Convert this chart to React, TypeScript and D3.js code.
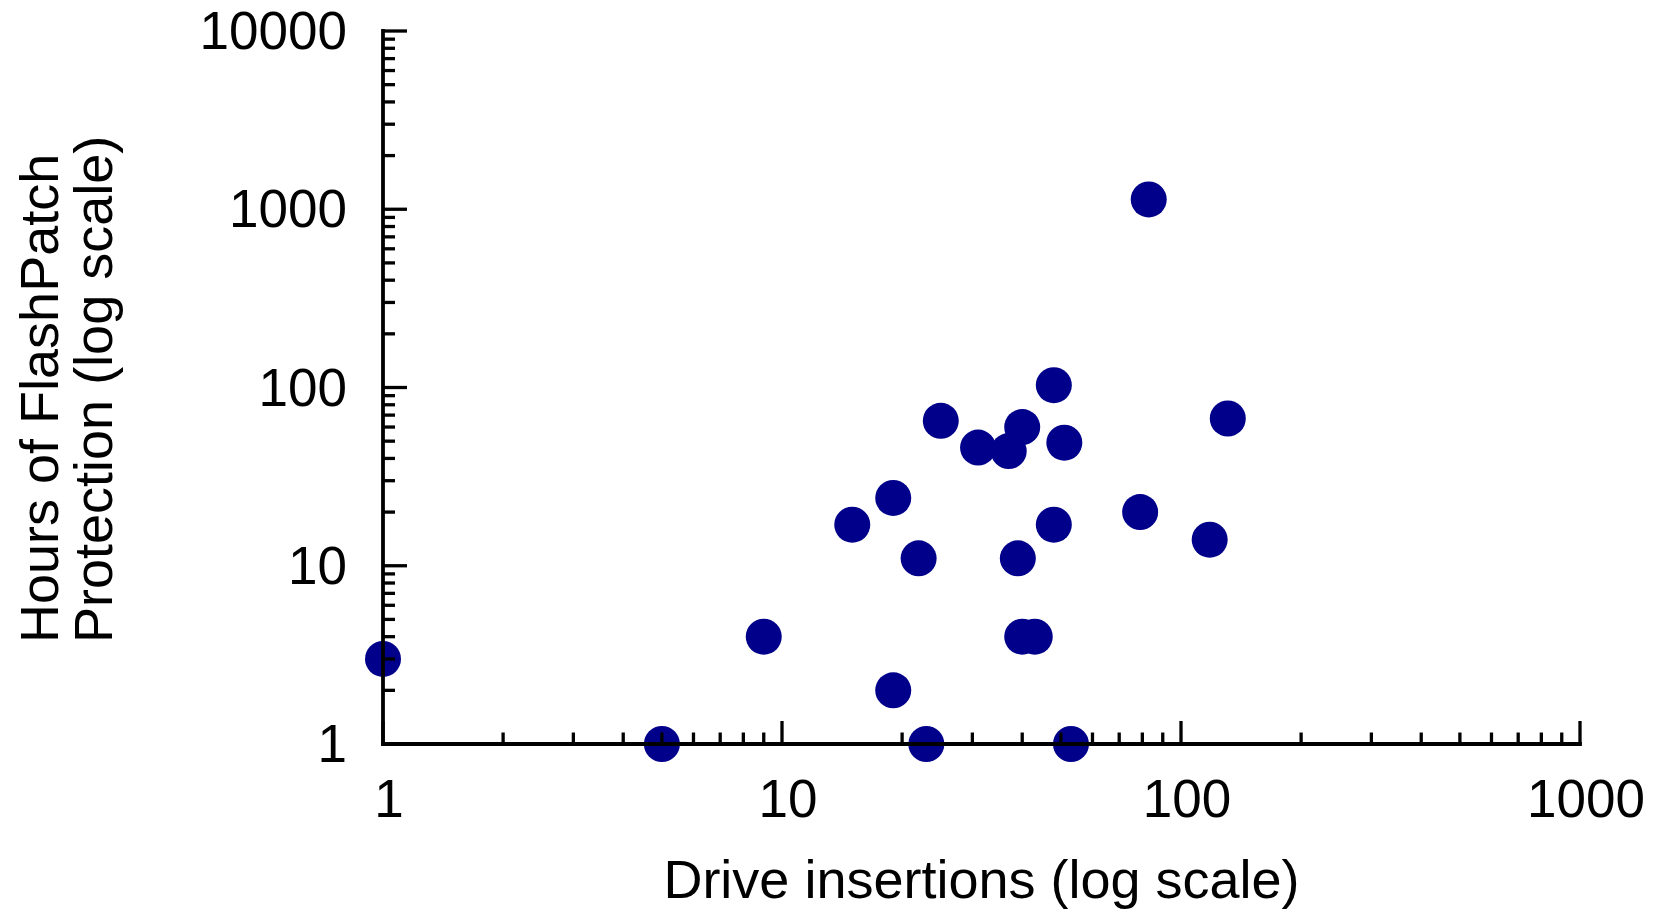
import { scaleLog } from "d3";

const WIDTH = 1661;
const HEIGHT = 911;
const FONT = "'Liberation Sans', Arial, Helvetica, sans-serif";
const DOT = "#00008b";

const insertions = [1, 5, 9, 15, 19, 19, 22, 23, 25, 31, 37, 40, 39, 40, 43, 48, 48, 51, 53, 79, 83, 118, 131];
const hours = [3, 1, 4, 17, 24, 2, 11, 1, 65, 46, 44, 60, 11, 4, 4, 103, 17, 49, 1, 20, 1135, 14, 67];

const X_TICKS = [1, 10, 100, 1000];
const Y_TICKS = [1, 10, 100, 1000, 10000];
const X_TITLE = "Drive insertions (log scale)";
const Y_TITLE = ["Hours of FlashPatch", "Protection (log scale)"];

const isPow10 = (v: number) => Math.abs(Math.log10(v) - Math.round(Math.log10(v))) < 1e-9;

export default function App() {
  const x = scaleLog().domain([1, 1000]).range([383, 1580]);
  const y = scaleLog().domain([1, 10000]).range([744, 31]);

  const xMinor = x.ticks().filter((v) => v <= 1000);
  const yMinor = y.ticks().filter((v) => v <= 10000);

  return (
    <svg
      width={WIDTH}
      height={HEIGHT}
      viewBox={`0 0 ${WIDTH} ${HEIGHT}`}
      style={{ position: "absolute", left: 0, top: 0, background: "#fff" }}
      fontFamily={FONT}
    >
      {/* points */}
      {insertions.map((v, i) => (
        <circle key={i} cx={x(v)} cy={y(hours[i])} r={18} fill={DOT} />
      ))}

      {/* axes */}
      <g stroke="#000" strokeWidth={3.8} strokeLinecap="square">
        <line x1={x(1)} x2={x(1)} y1={y(1)} y2={y(10000)} />
        <line x1={x(1)} x2={x(1000)} y1={y(1)} y2={y(1)} />
        {xMinor.map((v) => (
          <line
            key={`xt${v}`}
            x1={x(v)}
            x2={x(v)}
            y1={y(1)}
            y2={y(1) - (isPow10(v) ? 23 : 11.5)}
            strokeWidth={3.3}
            strokeLinecap="butt"
          />
        ))}
        {yMinor.map((v) => (
          <line
            key={`yt${v}`}
            x1={x(1)}
            x2={x(1) + (isPow10(v) ? 24 : 12)}
            y1={y(v)}
            y2={y(v)}
            strokeWidth={3.3}
            strokeLinecap="butt"
          />
        ))}
      </g>

      {/* tick labels */}
      {X_TICKS.map((v) => (
        <text key={`xl${v}`} x={x(v) + 6} y={817} fontSize={53} textAnchor="middle" fill="#000">
          {v}
        </text>
      ))}
      {Y_TICKS.map((v) => (
        <text key={`yl${v}`} x={347} y={y(v) + 18} fontSize={53} textAnchor="end" fill="#000">
          {v}
        </text>
      ))}

      {/* titles */}
      <text x={(x(1) + x(1000)) / 2} y={898} fontSize={54} textAnchor="middle" fill="#000">
        {X_TITLE}
      </text>
      {Y_TITLE.map((t, i) => (
        <text
          key={t}
          transform={`translate(${58 + i * 54}, 643) rotate(-90)`}
          fontSize={54}
          textAnchor="start"
          fill="#000"
        >
          {t}
        </text>
      ))}
    </svg>
  );
}
